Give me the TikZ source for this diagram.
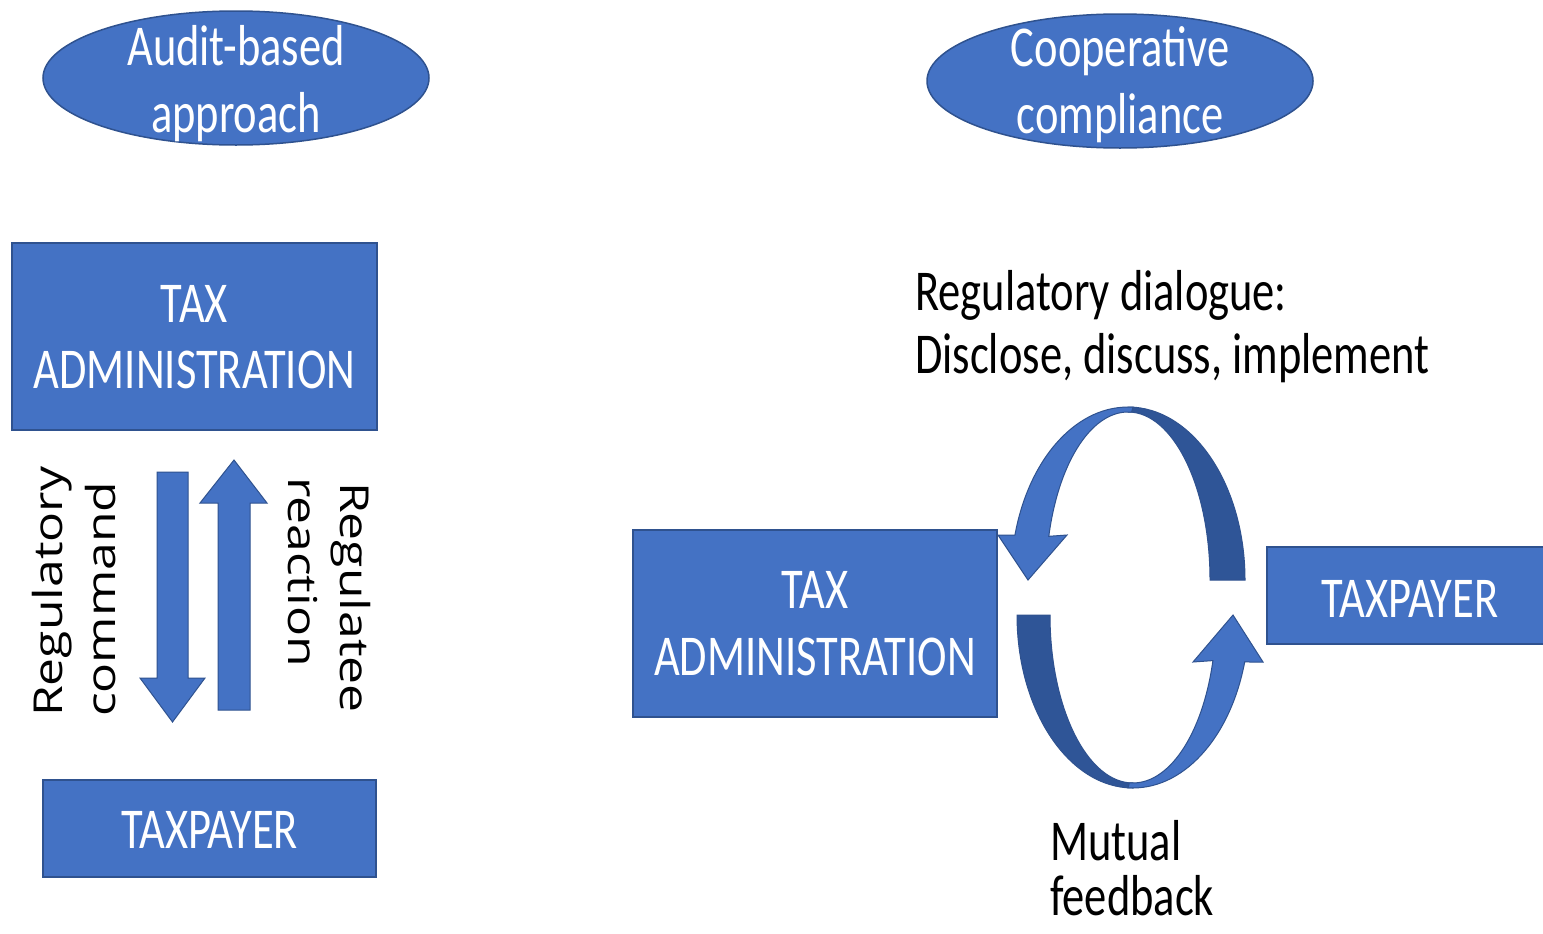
\documentclass[tikz,border=0pt]{standalone}
\usepackage{fontspec}
\usepackage{graphicx}
\usetikzlibrary{shapes.geometric}
\newfontfamily\calib{Carlito}[FakeStretch=0.77]
\newfontfamily\segoe{Open Sans}
\definecolor{blu}{HTML}{4472C4}
\definecolor{bdr}{HTML}{2F528F}
\definecolor{drk}{HTML}{2F5597}
\newcommand\sqz[1]{\scalebox{1}[0.8]{#1}}
\tikzset{
  boxstyle/.style={draw=bdr, fill=blu, line width=2bp, rectangle, inner sep=0pt},
  ovalstyle/.style={draw=bdr, fill=blu, line width=1.5bp, ellipse, inner sep=0pt},
  wtxt/.style={text=white, font=\calib\fontsize{58}{66}\selectfont, inner sep=0pt, anchor=base},
  btxt/.style={text=black, font=\calib\fontsize{58}{66}\selectfont, inner sep=0pt, anchor=base west},
  rtxt/.style={text=black, font=\segoe\fontsize{50}{60}\selectfont, inner sep=0pt, anchor=base west},
  blockarrow/.style={draw=bdr, fill=blu, line width=1bp, line join=miter},
  ribbonlight/.style={draw=bdr, fill=blu, line width=1bp},
  ribbondark/.style={draw=bdr, fill=drk, line width=1bp}
}
\begin{document}
\begin{tikzpicture}[x=1bp,y=-1bp]
\useasboundingbox (0,0) rectangle (1543,933);
\clip (0,0) rectangle (1543,933);
\fill[white] (0,0) rectangle (1543,933);

% ellipses
\node[ovalstyle, minimum width=386bp, minimum height=134bp] (eL) at (236,78) {};
\node[ovalstyle, minimum width=386bp, minimum height=134bp] (eR) at (1120,81) {};
\node[wtxt] (eL1) at (236,65) {Audit-based};
\node[wtxt] (eL2) at (236,132) {approach};
\node[wtxt] (eR1) at (1120,66) {Cooperative};
\node[wtxt] (eR2) at (1120,133) {compliance};

% boxes
\node[boxstyle, minimum width=365bp, minimum height=187bp] (taL) at (194.5,336.5) {};
\node[wtxt] (taL1) at (194.5,322) {TAX};
\node[wtxt] (taL2) at (194.5,388) {ADMINISTRATION};
\node[boxstyle, minimum width=333bp, minimum height=97bp] (tpL) at (209.5,828.5) {};
\node[wtxt] (tpL1) at (209.5,848) {TAXPAYER};
\node[boxstyle, minimum width=364bp, minimum height=187bp] (taR) at (815,623.5) {};
\node[wtxt] (taR1) at (815,608) {TAX};
\node[wtxt] (taR2) at (815,675) {ADMINISTRATION};
\node[boxstyle, minimum width=293bp, minimum height=97bp] (tpR) at (1413.5,595.5) {};
\node[wtxt] (tpR1) at (1410,617) {TAXPAYER};

% left block arrows
\draw[blockarrow] (157,472) -- (188,472) -- (188,678) -- (205,678) -- (172.5,722) -- (140,678) -- (157,678) -- cycle;
\draw[blockarrow] (218,710) -- (250,710) -- (250,503) -- (267,503) -- (234,460) -- (200,503) -- (218,503) -- cycle;

% rotated labels
\node[rtxt, rotate=90] (rc1) at (62,717) {\sqz{Regulatory}};
\node[rtxt, rotate=90] (rc2) at (115,717) {\sqz{command}};
\node[rtxt, rotate=-90] (rr1) at (340,482) {\sqz{Regulatee}};
\node[rtxt, rotate=-90] (rr2) at (288,477) {\sqz{reaction}};

% circular arrows (top)
\draw[ribbondark] (1128,407) arc[start angle=270, end angle=360, x radius=117, y radius=173]
  -- (1210,580) arc[start angle=360, end angle=270, x radius=82, y radius=168] -- cycle;
\draw[ribbonlight] (1133,407.2) arc[start angle=272.5, end angle=195.08, x radius=117, y radius=173]
  -- (998,535) -- (1028,580) -- (1067,535) -- (1048.8,536.3)
  arc[start angle=195.08, end angle=272.5, x radius=82, y radius=168] -- cycle;
% circular arrows (bottom)
\draw[ribbondark] (1133,788) arc[start angle=90, end angle=180, x radius=116, y radius=173]
  -- (1050,615) arc[start angle=180, end angle=90, x radius=83, y radius=168] -- cycle;
\draw[ribbonlight] (1128,787.8) arc[start angle=92.5, end angle=15.77, x radius=116, y radius=173]
  -- (1263,662) -- (1233,615) -- (1193,662) -- (1212.9,660.6)
  arc[start angle=15.77, end angle=92.5, x radius=83, y radius=168] -- cycle;

% black labels
\node[btxt] (rd1) at (915,310) {Regulatory dialogue:};
\node[btxt] (rd2) at (915,373) {Disclose, discuss, implement};
\node[btxt] (mf1) at (1050,860) {Mutual};
\node[btxt] (mf2) at (1050,915) {feedback};
\end{tikzpicture}
\end{document}
